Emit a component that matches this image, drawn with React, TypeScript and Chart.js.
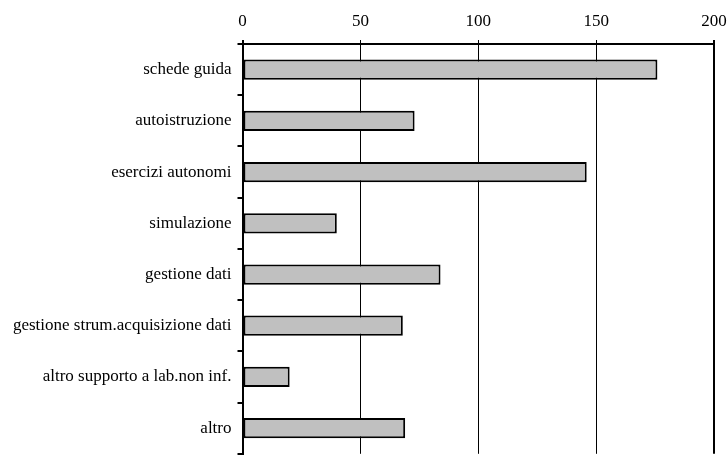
import React, { useEffect, useRef } from "react";
import { Chart, registerables } from "chart.js";

Chart.register(...registerables);

const categories = [
  "schede guida",
  "autoistruzione",
  "esercizi autonomi",
  "simulazione",
  "gestione dati",
  "gestione strum.acquisizione dati",
  "altro supporto a lab.non inf.",
  "altro",
];
const values = [176, 73, 146, 40, 84, 68, 20, 69];
const xTicks = [0, 50, 100, 150, 200];

export default function App() {
  const ref = useRef<HTMLCanvasElement | null>(null);
  useEffect(() => {
    document.body.style.margin = "0";
    const canvas = ref.current!;
    const chart = new Chart(canvas, {
      type: "bar",
      data: {
        labels: categories,
        datasets: [
          {
            data: values,
            backgroundColor: "#C0C0C0",
            borderColor: "#000000",
            borderWidth: 2,
            borderSkipped: false,
            barPercentage: 0.395,
            categoryPercentage: 1,
          },
        ],
      },
      options: {
        indexAxis: "y",
        animation: false,
        responsive: false,
        maintainAspectRatio: false,
        layout: { padding: { left: 0, right: 14, top: 0, bottom: 10 } },
        plugins: { legend: { display: false }, tooltip: { enabled: false } },
        scales: {
          x: {
            position: "top",
            min: xTicks[0],
            max: xTicks[xTicks.length - 1],
            afterBuildTicks: (s: any) => {
              s.ticks = xTicks.map((v) => ({ value: v }));
            },
            afterFit: (s: any) => {
              s.height = 44;
              s.paddingLeft = 0;
              s.paddingRight = 0;
            },
            ticks: {
              color: "#000",
              font: { family: "Liberation Serif", size: 17 },
              padding: 8,
              maxRotation: 0,
            },
            grid: {
              color: "#000",
              lineWidth: (c: any) =>
                c.tick && (c.tick.value === 0 || c.tick.value === 200) ? 2 : 1,
              tickLength: 4,
            },
            border: { display: true, color: "#000", width: 2 },
          },
          y: {
            afterFit: (s: any) => {
              s.width = 242.5;
            },
            ticks: {
              color: "#000",
              font: { family: "Liberation Serif", size: 17 },
              padding: 6,
            },
            grid: {
              drawOnChartArea: false,
              color: "#000",
              lineWidth: 2,
              tickLength: 5,
              offset: true,
            },
            border: { display: true, color: "#000", width: 2 },
          },
        },
      },
    });
    return () => chart.destroy();
  }, []);
  return (
    <div
      style={{
        position: "absolute",
        left: 0,
        top: 0,
        width: 728,
        height: 457,
        overflow: "hidden",
        background: "#fff",
      }}
    >
      <canvas ref={ref} width={728} height={470} style={{ display: "block" }} />
    </div>
  );
}
